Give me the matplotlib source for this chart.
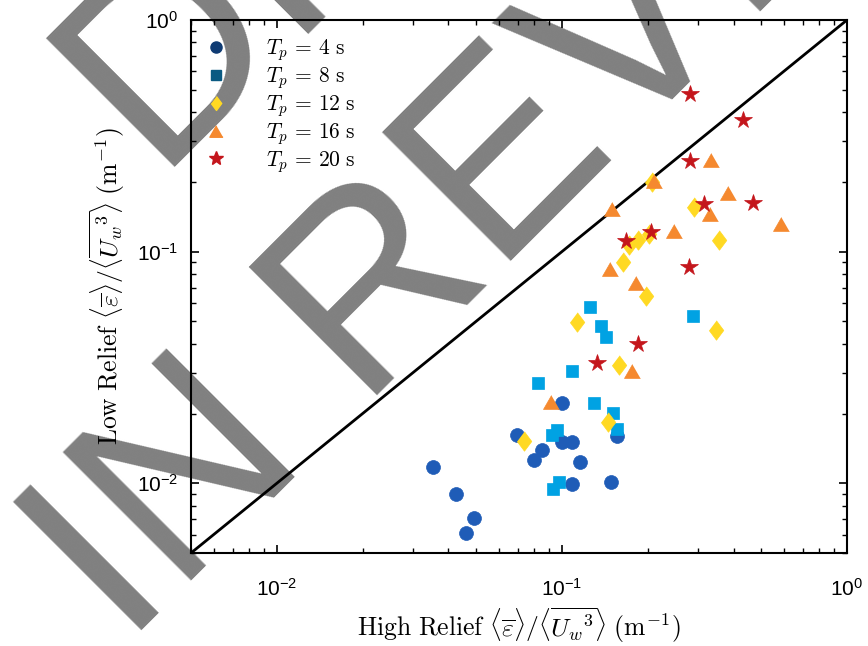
import matplotlib
matplotlib.use('Agg')
import matplotlib.pyplot as plt
from matplotlib.lines import Line2D

plt.rcParams['font.family'] = 'Liberation Sans'
plt.rcParams['mathtext.fontset'] = 'cm'

# dissipation ratio, high relief site (x) vs low relief site (y)
tp4_x = [0.0352, 0.0425, 0.0491, 0.0460, 0.0694, 0.0853, 0.0797, 0.1002, 0.1084, 0.1156, 0.1084, 0.1482, 0.1002, 0.1555]
tp4_y = [0.0118, 0.0090, 0.0071, 0.0061, 0.0161, 0.0139, 0.0126, 0.0150, 0.0150, 0.0124, 0.0099, 0.0101, 0.0223, 0.0160]

tp8_x = [0.0826, 0.1084, 0.1254, 0.1370, 0.1427, 0.2874, 0.1298, 0.1506, 0.1563, 0.0963, 0.0920, 0.0978, 0.0928]
tp8_y = [0.0270, 0.0305, 0.0578, 0.0476, 0.0429, 0.0526, 0.0223, 0.0202, 0.0172, 0.0170, 0.0161, 0.0101, 0.0094]

tp12_x = [0.2076, 0.2916, 0.3543, 0.1852, 0.1726, 0.2025, 0.1637, 0.1974, 0.1132, 0.3470, 0.1591, 0.1456, 0.0735]
tp12_y = [0.2001, 0.1563, 0.1122, 0.1122, 0.1065, 0.1197, 0.0901, 0.0644, 0.0499, 0.0459, 0.0323, 0.0183, 0.0152]

tp16_x = [0.3324, 0.2112, 0.3839, 0.1500, 0.3297, 0.5856, 0.2473, 0.1476, 0.1820, 0.1758, 0.0912]
tp16_y = [0.2491, 0.2011, 0.1796, 0.1532, 0.1450, 0.1320, 0.1226, 0.0838, 0.0734, 0.0306, 0.0224]

tp20_x = [0.2822, 0.4306, 0.2818, 0.3150, 0.4697, 0.2048, 0.1677, 0.2786, 0.1855, 0.1323]
tp20_y = [0.4783, 0.3695, 0.2474, 0.1606, 0.1618, 0.1210, 0.1108, 0.0860, 0.0401, 0.0330]

labels = ['4', '8', '12', '16', '20']
lims = [0.005, 1]

# marker shapes (matlab-ish diamond and triangle)
diamond = [(0, 1), (0.75, 0), (0, -1), (-0.75, 0)]
triangle = [(0, 0.87), (-1, -0.87), (1, -0.87)]

fig = plt.figure(figsize=(8.68, 6.46), dpi=100)

# watermark, sits behind the (transparent) axes
fig.text(0.1434, -0.0006, 'IN REVIEW', fontsize=189, rotation=45, rotation_mode='anchor',
         ha='left', va='baseline', color='#808080', zorder=-1)
fig.text(0.1767, 0.7427, 'DRAFT', fontsize=189, rotation=45, rotation_mode='anchor',
         ha='left', va='baseline', color='#808080', zorder=-1)

ax = fig.add_axes([191 / 868, 93 / 646, 656 / 868, 533 / 646])
ax.set_facecolor('none')

ax.plot(lims, lims, color='k', lw=2, zorder=2)

ax.plot(tp4_x, tp4_y, ls='none', marker='o', ms=10, mfc='#1f5cb7', mec='#1f5cb7', mew=0.5, zorder=3)
ax.plot(tp8_x, tp8_y, ls='none', marker='s', ms=8, mfc='#00a2e3', mec='#00a2e3', mew=0.5, zorder=3)
ax.plot(tp12_x, tp12_y, ls='none', marker=diamond, ms=14, mfc='#ffd923', mec='#ffd923', mew=0.5, zorder=3)
ax.plot(tp16_x, tp16_y, ls='none', marker=triangle, ms=11.5, mfc='#f5892f', mec='#f5892f', mew=0.5, zorder=3)
ax.plot(tp20_x, tp20_y, ls='none', marker='*', ms=13, mfc='#c4161c', mec='#c4161c', mew=0.5, zorder=3)

ax.set_xscale('log')
ax.set_yscale('log')
ax.set_xlim(lims)
ax.set_ylim(lims)

ax.tick_params(which='both', direction='in', top=True, right=True, labelsize=15)
ax.tick_params(which='major', length=6, width=1.2)
ax.tick_params(which='minor', length=3.5, width=1)
ax.tick_params(axis='x', pad=18)
ax.tick_params(axis='y', pad=9)
for s in ax.spines.values():
    s.set_linewidth(1.5)

ax.set_xlabel(r'$\mathrm{High\ Relief}\ \langle\overline{\varepsilon}\rangle/\langle\overline{{U_w}^{3}}\rangle\ (\mathrm{m}^{-1})$',
              fontsize=18.5, va='center')
ax.xaxis.set_label_coords(0.5, -0.135)
ax.set_ylabel(r'$\mathrm{Low\ Relief}\ \langle\overline{\varepsilon}\rangle/\langle\overline{{U_w}^{3}}\rangle\ (\mathrm{m}^{-1})$',
              fontsize=18.5, va='center')
ax.yaxis.set_label_coords(-0.128, 0.5)

# legend markers are darker than the data for the first two periods
handles = [
    Line2D([], [], ls='none', marker='o', ms=8, mfc='#0f3b73', mec='#0f3b73'),
    Line2D([], [], ls='none', marker='s', ms=6.5, mfc='#0a5a82', mec='#0a5a82'),
    Line2D([], [], ls='none', marker=diamond, ms=10, mfc='#ffd923', mec='#ffd923'),
    Line2D([], [], ls='none', marker=triangle, ms=9.5, mfc='#f5892f', mec='#f5892f'),
    Line2D([], [], ls='none', marker='*', ms=10, mfc='#c4161c', mec='#c4161c'),
]
ax.legend(handles, [r'$T_p\,=\,%s\ \mathrm{s}$' % l for l in labels], loc='upper left',
          bbox_to_anchor=(0.0223, 0.967), frameon=False, fontsize=15.5, borderpad=0,
          borderaxespad=0, handlelength=1.0, handletextpad=1.8, labelspacing=0.09)

fig.savefig('out.png', dpi=100)
